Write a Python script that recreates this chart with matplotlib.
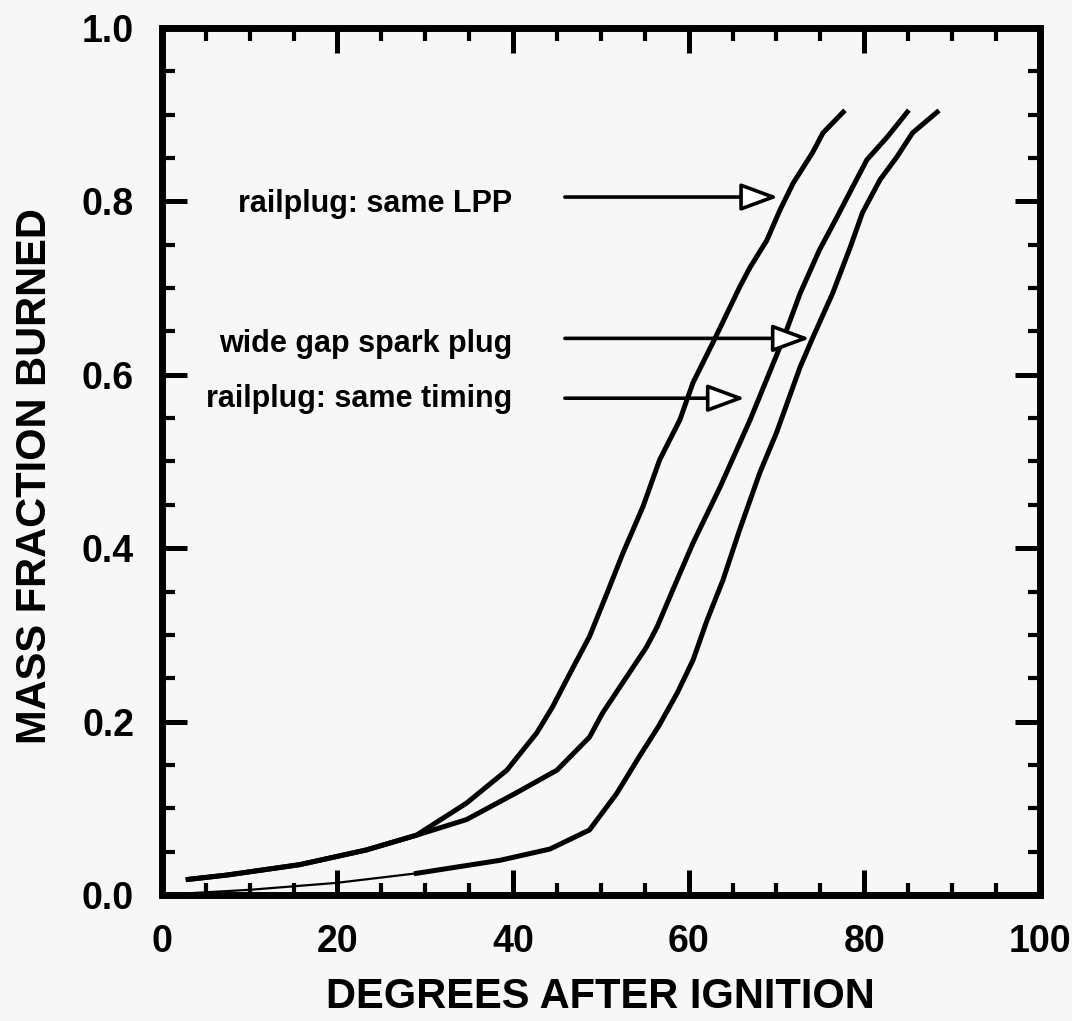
import matplotlib
matplotlib.use("Agg")
import matplotlib.pyplot as plt
from matplotlib.patches import ArrowStyle
from matplotlib.ticker import MultipleLocator

plt.rcParams['font.family'] = ['Liberation Sans', 'DejaVu Sans']
plt.rcParams['font.weight'] = 'bold'

# curve data
x_lpp = [3.0, 7.4, 15.7, 23.3, 29.0, 34.7, 39.3, 42.7, 44.5, 46.5, 48.7, 50.7,
         52.5, 54.8, 56.7, 59.0, 60.5, 63.0, 65.8, 67.0, 68.9, 70.4, 71.9,
         74.1, 75.3, 77.6]
y_lpp = [0.018, 0.023, 0.035, 0.052, 0.069, 0.106, 0.144, 0.187, 0.217, 0.256,
         0.298, 0.348, 0.394, 0.448, 0.502, 0.548, 0.591, 0.642, 0.701, 0.724,
         0.755, 0.790, 0.821, 0.856, 0.879, 0.903]

x_gap = [3.0, 7.4, 15.7, 23.3, 29.0, 34.7, 40.4, 45.0, 48.7, 50.2, 52.5, 55.2,
         56.4, 58.2, 60.5, 63.6, 67.0, 70.8, 72.7, 74.9, 76.9, 78.7, 80.3,
         82.6, 84.9]
y_gap = [0.018, 0.023, 0.035, 0.052, 0.069, 0.087, 0.118, 0.144, 0.182, 0.210,
         0.245, 0.286, 0.309, 0.352, 0.406, 0.471, 0.548, 0.642, 0.694, 0.744,
         0.782, 0.817, 0.848, 0.874, 0.903]

x_tim = [3.0, 10.0, 19.9, 29.0, 38.5, 44.2, 48.7, 51.8, 54.4, 56.6, 58.7, 60.5,
         62.1, 63.9, 65.8, 68.1, 70.0, 72.7, 74.1, 76.4, 78.4, 79.8, 81.8,
         83.7, 85.5, 88.3]
y_tim = [0.002, 0.006, 0.014, 0.025, 0.040, 0.053, 0.075, 0.117, 0.160, 0.195,
         0.233, 0.271, 0.317, 0.363, 0.421, 0.487, 0.533, 0.609, 0.642, 0.694,
         0.747, 0.787, 0.825, 0.851, 0.879, 0.903]

labels = ["railplug: same LPP", "wide gap spark plug", "railplug: same timing"]
label_x = 39.9
label_y = [0.788, 0.626, 0.563]
arrow_tail_x = 45.9
arrow_tip_x = [70.2, 73.8, 66.4]
arrow_y = [0.805, 0.642, 0.573]

bg = '#f7f7f7'
fig = plt.figure(figsize=(10.72, 10.21), dpi=100, facecolor=bg)
ax = fig.add_axes([0.151, 0.1234, 0.819, 0.8492], facecolor=bg)

ax.plot(x_lpp, y_lpp, color='black', lw=3.6, solid_joinstyle='round')
ax.plot(x_gap, y_gap, color='black', lw=3.6, solid_joinstyle='round')
ax.plot(x_tim[:4], y_tim[:4], color='black', lw=1.6)
ax.plot(x_tim[3:], y_tim[3:], color='black', lw=3.6, solid_joinstyle='round')

style = ArrowStyle('-|>', head_length=2.3, head_width=0.85)
for txt, ty, tip, ay in zip(labels, label_y, arrow_tip_x, arrow_y):
    ax.text(label_x, ty, txt, ha='right', va='baseline', fontsize=22,
            fontweight='bold')
    ax.annotate('', xy=(tip, ay), xytext=(arrow_tail_x, ay),
                arrowprops=dict(arrowstyle=style, color='black', fc='white',
                                lw=2.6, shrinkA=0, shrinkB=0,
                                mutation_scale=10))

ax.set_xlim(0, 100)
ax.set_ylim(0, 1.0)
ax.xaxis.set_major_locator(MultipleLocator(20))
ax.xaxis.set_minor_locator(MultipleLocator(5))
ax.yaxis.set_major_locator(MultipleLocator(0.2))
ax.yaxis.set_minor_locator(MultipleLocator(0.05))
ax.yaxis.set_major_formatter(plt.FormatStrFormatter('%.1f'))

ax.tick_params(which='both', direction='in', top=True, right=True)
ax.tick_params(which='major', length=18, width=3.6, labelsize=27)
ax.tick_params(which='minor', length=9, width=3.0)
ax.tick_params(axis='y', which='major', pad=20)
ax.tick_params(axis='x', which='major', pad=21)
for s in ax.spines.values():
    s.set_linewidth(5)

ax.set_xlabel('DEGREES AFTER IGNITION', fontsize=30, fontweight='bold', labelpad=12)
ax.set_ylabel('MASS FRACTION BURNED', fontsize=30, fontweight='bold')
ax.yaxis.set_label_coords(-0.122, 0.483)

fig.savefig('out.png', dpi=100, facecolor=bg)
